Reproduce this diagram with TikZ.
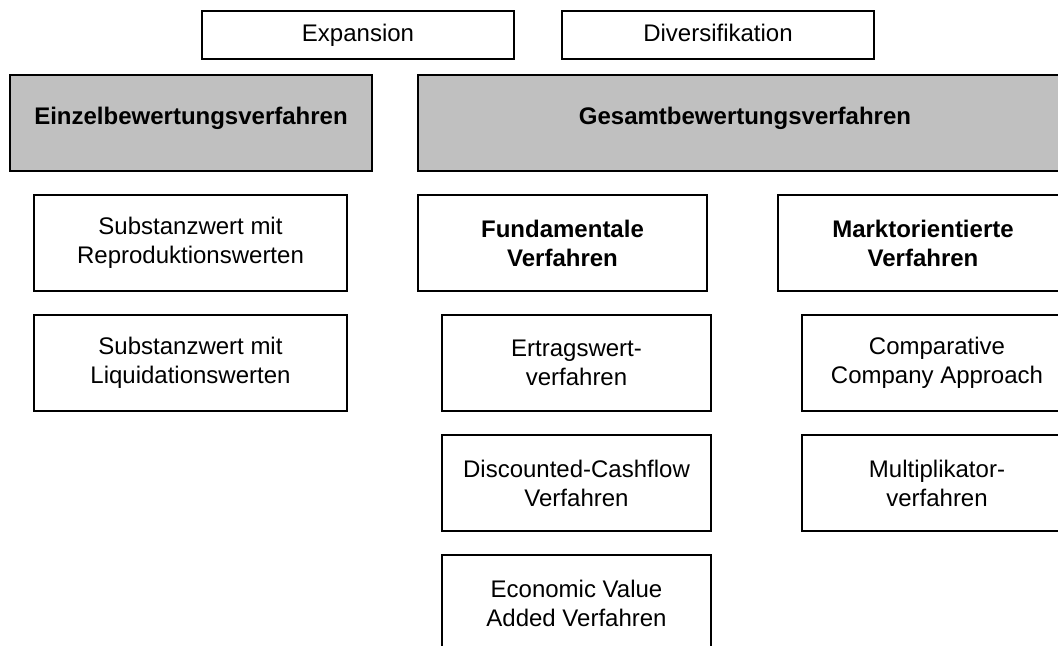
\documentclass[tikz,border=0pt]{standalone}
\usepackage{fontspec}
\setmainfont{Liberation Sans}
\definecolor{boxgray}{HTML}{C0C0C0}
\begin{document}
\begin{tikzpicture}[x=0.75pt,y=-0.75pt,
  box/.style={draw=black,line width=1.2pt,fill=white,inner sep=0pt,align=center,
    font=\fontsize{18pt}{21.75pt}\selectfont},
  topbox/.style={box,minimum width=312*0.75pt,minimum height=48*0.75pt,
    text height=13pt,text depth=4pt},
  headbox/.style={box,fill=boxgray,minimum height=96*0.75pt},
  headtext/.style={inner sep=0pt,font=\fontsize{18pt}{21.75pt}\selectfont\bfseries,
    text height=13pt,text depth=4pt},
  catbox/.style={box,minimum height=96*0.75pt,font=\fontsize{18pt}{21.75pt}\selectfont\bfseries},
  leafbox/.style={box,minimum height=96*0.75pt}]
\useasboundingbox (0,0) rectangle (1058,646);
\clip (0,0) rectangle (1058,646);
\fill[white] (0,0) rectangle (1058,646);
% top row
\node[topbox] (exp) at (358,35) {Expansion};
\node[topbox] (div) at (718,35) {Diversifikation};
% gray headers
\node[headbox,minimum width=362*0.75pt] (einzel) at (191,123) {};
\node[headtext] (einzeltxt) at (191,118) {Einzelbewertungsverfahren};
\node[headbox,minimum width=654*0.75pt] (gesamt) at (745,123) {};
\node[headtext] (gesamttxt) at (745,118) {Gesamtbewertungsverfahren};
% left column
\node[leafbox,minimum width=313*0.75pt] (sr) at (190.5,243) {Substanzwert mit\\Reproduktionswerten};
\node[leafbox,minimum width=313*0.75pt] (sl) at (190.5,363) {Substanzwert mit\\Liquidationswerten};
% middle column
\node[catbox,minimum width=289*0.75pt] (fund) at (562.5,243) {Fundamentale\\Verfahren};
\node[leafbox,minimum width=269*0.75pt] (ertrag) at (576.5,363) {Ertragswert-\\verfahren};
\node[leafbox,minimum width=269*0.75pt] (dcf) at (576.5,483) {Discounted-Cashflow\\Verfahren};
\node[leafbox,minimum width=269*0.75pt] (eva) at (576.5,603) {Economic Value\\Added Verfahren};
% right column
\node[catbox,minimum width=290*0.75pt] (markt) at (923,243) {Marktorientierte\\Verfahren};
\node[leafbox,minimum width=270*0.75pt] (cca) at (937,363) {Comparative\\Company Approach};
\node[leafbox,minimum width=270*0.75pt] (mult) at (937,483) {Multiplikator-\\verfahren};
\end{tikzpicture}
\end{document}
